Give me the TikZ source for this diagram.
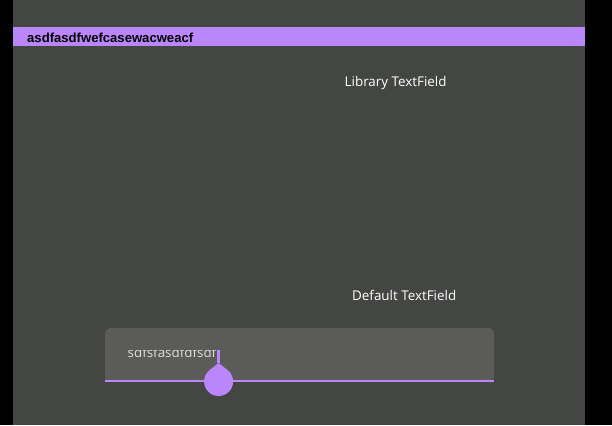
\documentclass[tikz,border=0pt]{standalone}
\usepackage{fontspec}
\setmainfont{Open Sans}
\newfontfamily\barfont{Liberation Sans}
\definecolor{bgdark}{RGB}{68,70,67}
\definecolor{fieldgray}{RGB}{91,92,90}
\definecolor{accent}{RGB}{187,134,252}
\definecolor{hinttext}{RGB}{222,222,220}
\tikzset{
  caption/.style={anchor=base west, inner sep=0pt, text=white, font=\fontsize{13.4}{16}\selectfont},
}
\begin{document}
\begin{tikzpicture}[x=1pt, y=-1pt]
				\useasboundingbox (0,0) rectangle (612,425);
				\fill[black] (0,0) rectangle (612,425);
				\fill[bgdark] (13,0) rectangle (585,425);
				% title bar
				\fill[accent] (13,27) rectangle (585,46.5);
				\node[anchor=base west, inner sep=0pt, font=\barfont\bfseries\fontsize{13.1}{15}\selectfont] (bar) at (27,42.5) {asdfasdfwefcasewacweacf};
				\node[caption] (lib) at (344.5,86.7) {Library TextField};
				\node[caption] (def) at (352,300.7) {Default TextField};
				% text field
				\fill[fieldgray, rounded corners=5pt] (105,382) -- (105,328) -- (494,328) -- (494,382) [sharp corners] -- cycle;
				\begin{scope}
					\clip (105,350.5) rectangle (300,382);
					\node[anchor=base west, inner sep=0pt, text=hinttext, font=\fontsize{13.4}{15}\selectfont] (input) at (127.5,357.3) {sdfsfasdfdfsdf};
				\end{scope}
				\coordinate (fl) at (105,380.8);
				\coordinate (fr) at (494,380.8);
				\draw[accent, line width=2.6pt] (fl) -- (fr);
				% cursor and handle
				\coordinate (c) at (218.6,381.5);
				\coordinate (tip) at (218.6,363);
				\coordinate (ctop) at (218.6,350);
				\draw[accent, line width=2.4pt] (ctop) -- (tip);
				\fill[accent] (c) circle (14.5);
				\fill[accent] (tip) -- ([shift={(231.6:14.5)}]c) -- ([shift={(308.4:14.5)}]c) -- cycle;
			\end{tikzpicture}
\end{document}
